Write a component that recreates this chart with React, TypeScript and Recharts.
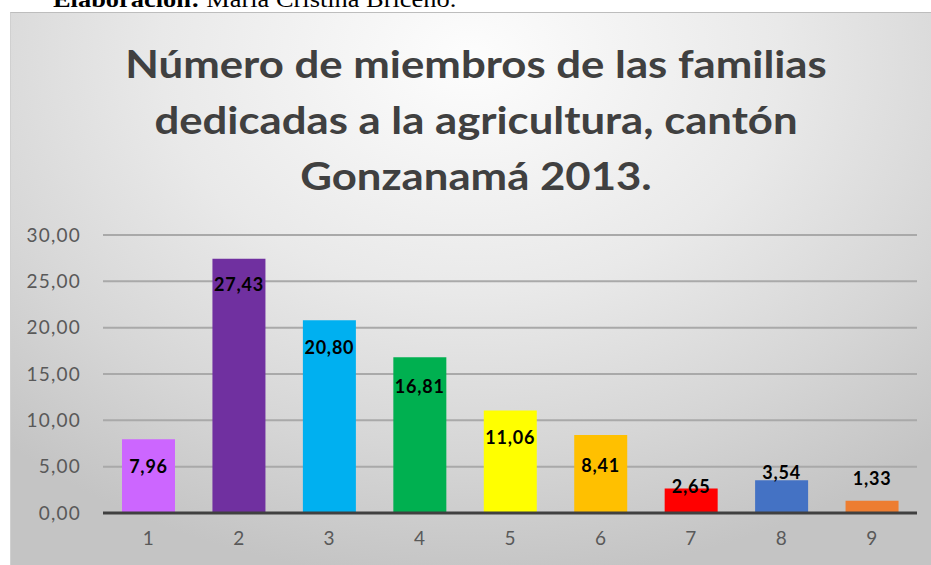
import { Bar, BarChart, CartesianGrid, Cell, LabelList, ReferenceLine, XAxis, YAxis } from "recharts";

const categories = ["1", "2", "3", "4", "5", "6", "7", "8", "9"];
const memberShares = [7.96, 27.43, 20.8, 16.81, 11.06, 8.41, 2.65, 3.54, 1.33];
const barColors = ["#cc66ff", "#7030a0", "#00b0f0", "#00b050", "#ffff00", "#ffc000", "#ff0000", "#4472c4", "#ed7d31"];
const yTicks = [0, 5, 10, 15, 20, 25, 30];
const titleLines = ["Número de miembros de las familias", "dedicadas a la agricultura, cantón", "Gonzanamá 2013."];

const data = categories.map((name, i) => ({ name, value: memberShares[i] }));

// label centre relative to bar top (Excel pushes labels of short bars upward)
const labelDy = [27, 25, 27, 29, 26, 30, -2, -8, -23];

const fmt = (v: number) => v.toFixed(2).replace(".", ",");

const FONT = "Lato, 'Open Sans', sans-serif";

function ValueLabel(props: any) {
  const { x, y, width, value, index } = props;
  return (
    <text
      x={x + width / 2}
      y={y + labelDy[index]}
      textAnchor="middle"
      dominantBaseline="central"
      fontFamily={FONT}
      fontWeight={700}
      fontSize={18}
      letterSpacing={0.8}
      fill="#000"
    >
      {fmt(Number(value))}
    </text>
  );
}

export default function App() {
  return (
    <div style={{ position: "absolute", left: 0, top: 0, width: 931, height: 565, background: "#fff", overflow: "hidden" }}>
      <div
        style={{
          position: "absolute",
          left: 53,
          top: -13,
          fontFamily: "'Liberation Serif', 'Times New Roman', serif",
          fontSize: 24,
          lineHeight: "24px",
          color: "#000",
          whiteSpace: "nowrap",
          transform: "scaleX(1.1)",
          transformOrigin: "0 0",
        }}
      >
        <b>Elaboración:</b> María Cristina Briceño.
      </div>
      <div
        style={{
          position: "absolute",
          left: 10,
          top: 12,
          width: 921,
          height: 553,
          borderTop: "1px solid #bdbdbd",
          borderLeft: "1px solid #d0d0d0",
          boxSizing: "border-box",
          background: "radial-gradient(ellipse 75% 95% at 50% 8%, #fdfdfd 0%, #e9e9e9 45%, #d6d6d6 75%, #c4c4c4 100%)",
        }}
      >
        <div
          style={{
            position: "absolute",
            left: 0,
            top: 22,
            width: 930,
            textAlign: "center",
            fontFamily: FONT,
            fontWeight: 700,
            fontSize: 38,
            lineHeight: "56px",
            color: "#404040",
            transform: "scaleX(1.15)",
            transformOrigin: "465px 0",
          }}
        >
          {titleLines.map((t) => (
            <div key={t}>{t}</div>
          ))}
        </div>
        <BarChart
          width={921}
          height={553}
          data={data}
          margin={{ top: 223, right: 14, bottom: 22, left: 33 }}
          style={{ position: "absolute", left: -1, top: -1 }}
        >
          <CartesianGrid vertical={false} stroke="#a9a9a9" strokeWidth={2} />
          <XAxis
            dataKey="name"
            axisLine={false}
            tickLine={false}
            tickSize={0}
            tickMargin={19}
            height={30}
            tick={{ fill: "#595959", fontSize: 19, fontFamily: FONT }}
          />
          <YAxis
            domain={[0, 30]}
            ticks={yTicks}
            width={60}
            axisLine={false}
            tickLine={false}
            tickSize={0}
            tickMargin={22}
            tickFormatter={fmt}
            tick={{ fill: "#595959", fontSize: 19, fontFamily: FONT, letterSpacing: 1.2 }}
          />
          <Bar dataKey="value" barSize={53} isAnimationActive={false}>
            {data.map((d, i) => (
              <Cell key={d.name} fill={barColors[i]} />
            ))}
            <LabelList dataKey="value" content={ValueLabel} />
          </Bar>
          <ReferenceLine y={0} stroke="#404040" strokeWidth={3} />
        </BarChart>
      </div>
    </div>
  );
}
